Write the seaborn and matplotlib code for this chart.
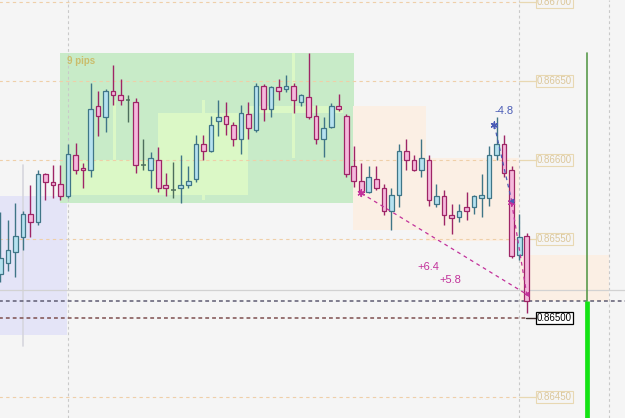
import numpy as np
import pandas as pd
import matplotlib
matplotlib.use("Agg")
import matplotlib.pyplot as plt
import seaborn as sns
from matplotlib.patches import Rectangle

# ---------------- data ----------------
opens = [0.86528, 0.86535, 0.86542, 0.86551, 0.86566, 0.86561, 0.86591, 0.86586, 0.86585, 0.86577,
         0.86603, 0.86595, 0.86594, 0.86634, 0.86627, 0.86644, 0.86641, 0.86638, 0.86637, 0.86597,
         0.86594, 0.86600, 0.86584, 0.86581, 0.86582, 0.86584, 0.86588, 0.86610, 0.86606, 0.86625,
         0.86628, 0.86622, 0.86613, 0.86629, 0.86619, 0.86647, 0.86632, 0.86646, 0.86645, 0.86647,
         0.86637, 0.86640, 0.86628, 0.86613, 0.86621, 0.86634, 0.86628, 0.86596, 0.86587, 0.86580,
         0.86588, 0.86582, 0.86568, 0.86578, 0.86606, 0.86600, 0.86594, 0.86600, 0.86572, 0.86577,
         0.86565, 0.86564, 0.86570, 0.86570, 0.86576, 0.86576, 0.86603, 0.86610, 0.86594, 0.86540,
         0.86552]
highs = [0.86567, 0.86562, 0.86573, 0.86568, 0.86584, 0.86594, 0.86592, 0.86597, 0.86597, 0.86610,
         0.86611, 0.86598, 0.86649, 0.86644, 0.86645, 0.86660, 0.86651, 0.86641, 0.86639, 0.86613,
         0.86605, 0.86608, 0.86592, 0.86599, 0.86603, 0.86596, 0.86616, 0.86616, 0.86628, 0.86638,
         0.86637, 0.86624, 0.86635, 0.86637, 0.86649, 0.86648, 0.86647, 0.86651, 0.86654, 0.86649,
         0.86642, 0.86668, 0.86635, 0.86627, 0.86636, 0.86642, 0.86629, 0.86609, 0.86598, 0.86596,
         0.86596, 0.86585, 0.86582, 0.86610, 0.86613, 0.86603, 0.86613, 0.86603, 0.86585, 0.86581,
         0.86572, 0.86572, 0.86580, 0.86578, 0.86591, 0.86609, 0.86627, 0.86616, 0.86596, 0.86566,
         0.86554]
lows = [0.86523, 0.86530, 0.86526, 0.86543, 0.86551, 0.86559, 0.86575, 0.86576, 0.86575, 0.86576,
        0.86591, 0.86582, 0.86589, 0.86615, 0.86618, 0.86635, 0.86635, 0.86624, 0.86592, 0.86594,
        0.86582, 0.86580, 0.86577, 0.86576, 0.86573, 0.86582, 0.86586, 0.86600, 0.86605, 0.86615,
        0.86616, 0.86609, 0.86604, 0.86613, 0.86618, 0.86625, 0.86627, 0.86638, 0.86643, 0.86630,
        0.86634, 0.86626, 0.86610, 0.86602, 0.86620, 0.86631, 0.86589, 0.86583, 0.86577, 0.86579,
        0.86581, 0.86565, 0.86556, 0.86570, 0.86594, 0.86593, 0.86589, 0.86571, 0.86570, 0.86559,
        0.86553, 0.86561, 0.86562, 0.86566, 0.86564, 0.86571, 0.86600, 0.86589, 0.86538, 0.86537,
        0.86503]
closes = [0.86538, 0.86543, 0.86552, 0.86566, 0.86561, 0.86591, 0.86586, 0.86584, 0.86577, 0.86604,
          0.86594, 0.86594, 0.86632, 0.86628, 0.86644, 0.86641, 0.86638, 0.86638, 0.86597, 0.86597,
          0.86601, 0.86582, 0.86582, 0.86581, 0.86584, 0.86587, 0.86610, 0.86606, 0.86622, 0.86627,
          0.86623, 0.86613, 0.86630, 0.86620, 0.86647, 0.86632, 0.86646, 0.86644, 0.86647, 0.86638,
          0.86641, 0.86627, 0.86613, 0.86620, 0.86634, 0.86632, 0.86591, 0.86587, 0.86580, 0.86589,
          0.86582, 0.86568, 0.86578, 0.86606, 0.86600, 0.86594, 0.86601, 0.86575, 0.86577, 0.86565,
          0.86563, 0.86568, 0.86568, 0.86577, 0.86578, 0.86603, 0.86610, 0.86592, 0.86539, 0.86551,
          0.86511]

price_levels = [0.86450, 0.86500, 0.86550, 0.86600, 0.86650, 0.86700]
level_labels = ["0.86450", "0.86500", "0.86550", "0.86600", "0.86650", "0.86700"]
marked_level = 0.86500
ask_price = 0.86518

range_box_bars = (8, 47)
range_label = "9 pips"

trade_entry_bar = [48, 65.7, 68]
trade_entry_price = [0.86579, 0.86622, 0.86573]
trade_exit_bar = [70, 68, 70]
trade_exit_price = [0.86515, 0.86574, 0.86515]
trade_result = ["+6.4", "-4.8", "+5.8"]
trade_side = ["sell", "buy", "sell"]

df = pd.DataFrame({"open": opens, "high": highs, "low": lows, "close": closes})
df["bar"] = np.arange(len(df))

# ---------------- style ----------------
sns.set_style("white")
plt.rcParams["font.family"] = ["Liberation Sans", "DejaVu Sans"]

BG = "#f5f5f5"
BULL_FILL, BULL_EDGE = "#b6e2f0", "#3f7587"
BEAR_FILL, BEAR_EDGE = "#f5b9dc", "#9e2566"
DOJI = "#4d6e5c"
MAG = "#c2319a"
BLUE = "#4a5cb6"
GRID = "#efcfa8"
LABEL_TXT = "#dcc79a"
LABEL_EDGE = "#e8d8b2"

fig = plt.figure(figsize=(6.25, 4.18), dpi=100, facecolor=BG)
ax = fig.add_axes([0, 0, 1, 1], facecolor=BG)
px0, pstep = 0.32, 7.52
ax.set_xlim((0 - px0) / pstep, (625 - px0) / pstep)
y_top, y_bot = 0.867013, 0.864367
ax.set_ylim(y_bot, y_top)
ax.axis("off")

# ---------------- background zones ----------------
# left lavender zone
ax.add_patch(Rectangle((-1, 0.86489), 8.87 + 1, 0.86577 - 0.86489, fc="#e4e4f7", ec="none", zorder=0))
ax.plot([3, 3], [0.86482, 0.86597], color="#d6d6de", lw=1.2, zorder=0.5)

# range box (green)
b0, b1 = range_box_bars
seg = df.iloc[b0:b1 + 1]
box_hi, box_lo = seg["high"].max(), seg["low"].min()
ax.add_patch(Rectangle((b0, box_lo), b1 - b0, box_hi - box_lo, fc="#c8ebc8", ec="none", zorder=0))
LIME = "#dbf8c6"
for (xa, xb, ya, yb) in [(9.0, 21.0, 0.86578, 0.86600), (21.0, 33.0, 0.86578, 0.86630),
                         (33.0, 45.6, 0.86630, 0.86634), (38.8, 39.2, 0.86601, 0.86668),
                         (15.0, 15.4, 0.86600, 0.86638), (26.8, 27.2, 0.86575, 0.86638)]:
    ax.add_patch(Rectangle((xa, ya), xb - xa, yb - ya, fc=LIME, ec="none", zorder=0.2))
ax.text(8.87, 0.86663, range_label, color="#cbbd6c", fontsize=7, fontweight="bold",
        ha="left", va="center", zorder=3)

# peach zones
PEACH = "#fbefe4"
ax.add_patch(Rectangle((46.95, 0.86556), 56.6 - 46.95, 0.86634 - 0.86556, fc=PEACH, ec="none", zorder=0))
ax.add_patch(Rectangle((56.6, 0.86549), 69.0 - 56.6, 0.86601 - 0.86549, fc=PEACH, ec="none", zorder=0))
ax.add_patch(Rectangle((69.05, 0.86511), 80.9 - 69.05, 0.86540 - 0.86511, fc=PEACH, ec="none", zorder=0))

# ---------------- grid / price levels ----------------
lab_x = (537 - px0) / pstep
for lv, lt in zip(price_levels, level_labels):
    if lv == marked_level:
        continue
    ax.plot([-1, 69.0], [lv, lv], color=GRID, lw=0.8, ls=(0, (3, 3)), zorder=0.6)
    ax.plot([69.0, lab_x], [lv, lv], color=LABEL_EDGE, lw=0.9, zorder=0.6)
    ax.text(lab_x, lv, lt, color=LABEL_TXT, fontsize=7, ha="left", va="center", zorder=3,
            bbox=dict(boxstyle="square,pad=0.12", fc=BG, ec=LABEL_EDGE, lw=0.8))

# vertical separators
for vx in [9.0, 69.0, 81.0]:
    ax.plot([vx, vx], [y_bot, y_top], color="#c9c9c9", lw=0.8, ls=(0, (2.5, 2.5)), zorder=0.7)

# ask line, bid line, marked level
ax.plot([-1, 90], [ask_price, ask_price], color="#d2d2d2", lw=0.9, zorder=0.8)
last_close = closes[-1]
ax.plot([-1, 90], [last_close, last_close], color="#5e5c72", lw=1.1, ls=(0, (2.5, 2)), zorder=0.9)
ax.plot([-1, 69.9], [marked_level, marked_level], color="#7e4e4e", lw=1.1, ls=(0, (2.5, 2)), zorder=0.9)
ax.plot([69.9, lab_x], [marked_level, marked_level], color="#3a2a2a", lw=1.0, zorder=0.9)
ax.text(lab_x, marked_level, level_labels[price_levels.index(marked_level)], color="black",
        fontsize=7, ha="left", va="center", zorder=3,
        bbox=dict(boxstyle="square,pad=0.12", fc="white", ec="black", lw=0.9))

# green volume-like bar
gx = (587 - px0) / pstep
ax.plot([gx, gx], [last_close, box_hi], color="#5a9a4c", lw=1.2, zorder=1)
ax.plot([gx, gx], [y_bot, last_close], color="#14e314", lw=3.4, solid_capstyle="butt", zorder=1)

# ---------------- candles ----------------
bull = df["close"] > df["open"]
bear = df["close"] < df["open"]
doji = df["close"] == df["open"]
wick_col = np.where(bull, BULL_EDGE, np.where(bear, BEAR_EDGE, DOJI))
ax.vlines(df["bar"], df["low"], df["high"], colors=wick_col, lw=1.0, zorder=2)
w = 0.62
for mask, fc, ec in [(bull, BULL_FILL, BULL_EDGE), (bear, BEAR_FILL, BEAR_EDGE)]:
    d = df[mask]
    bottom = np.minimum(d["open"], d["close"])
    height = (d["open"] - d["close"]).abs()
    ax.bar(d["bar"], height, bottom=bottom, width=w, color=fc, edgecolor=ec, linewidth=0.9, zorder=2.5)
d = df[doji]
ax.hlines(d["close"], d["bar"] - w / 2, d["bar"] + w / 2, colors=DOJI, lw=1.1, zorder=2.5)

# ---------------- trades ----------------
for eb, ep, xb, xp, side in zip(trade_entry_bar, trade_entry_price, trade_exit_bar, trade_exit_price, trade_side):
    c = MAG if side == "sell" else BLUE
    ax.plot([eb, xb], [ep, xp], color=c, lw=0.9, ls=(0, (3, 3)), zorder=3)

tr = pd.DataFrame({"bar": trade_entry_bar, "price": trade_entry_price, "side": trade_side})
sns.scatterplot(data=tr, x="bar", y="price", hue="side", palette={"sell": MAG, "buy": BLUE},
                marker=(6, 2, 0), s=22, linewidth=1.0, legend=False, ax=ax, zorder=4)
te = pd.DataFrame({"bar": trade_exit_bar, "price": trade_exit_price, "side": trade_side})
sns.scatterplot(data=te, x="bar", y="price", hue="side", palette={"sell": MAG, "buy": BLUE},
                marker="<", s=14, linewidth=0, legend=False, ax=ax, zorder=4)

label_pos = [(56.9, 0.86532), (67.0, 0.86631), (59.9, 0.86524)]
for (lx, ly), txt, side in zip(label_pos, trade_result, trade_side):
    ax.text(lx, ly, txt, color=MAG if side == "sell" else BLUE, fontsize=8, ha="center",
            va="center", zorder=4)

fig.savefig("out.png", dpi=100, facecolor=BG)
